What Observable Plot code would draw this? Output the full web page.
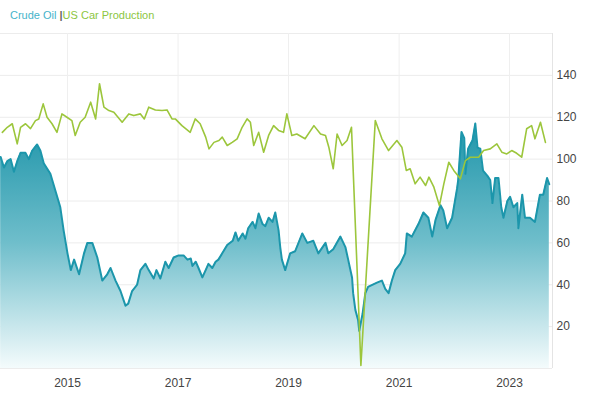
<!DOCTYPE html>
<html>
<head>
<meta charset="utf-8">
<script src="https://cdn.jsdelivr.net/npm/d3@7"></script>
<script src="https://cdn.jsdelivr.net/npm/@observablehq/plot@0.6"></script>
<style>
  html, body { margin: 0; padding: 0; background: #fff; }
  #header { height: 26px; box-sizing: border-box; padding: 9px 0 0 10px; line-height: 12px;
            font: 11px "Liberation Sans", Arial, sans-serif; white-space: nowrap; }
  #header .oil { color: #45b3ca; }
  #header .sep { color: #666; font-weight: bold; }
  #header .car { color: #8cc63f; }
</style>
</head>
<body>
<div id="header"><span class="oil">Crude Oil</span> <span class="sep">|</span><span class="car">US Car Production</span></div>
<div id="chart"></div>
<script>
// ---- data (time as decimal year) ----
const oilT = [2013.79,2013.85,2013.91,2013.97,2014.03,2014.09,2014.15,2014.24,2014.30,2014.36,
  2014.45,2014.51,2014.57,2014.69,2014.78,2014.87,2014.93,2015.00,2015.06,2015.12,
  2015.21,2015.30,2015.36,2015.45,2015.54,2015.63,2015.72,2015.78,2015.87,2015.96,
  2016.05,2016.10,2016.17,2016.26,2016.32,2016.41,2016.47,2016.56,2016.61,2016.68,
  2016.77,2016.83,2016.92,2017.01,2017.10,2017.17,2017.23,2017.26,2017.32,2017.37,
  2017.44,2017.50,2017.55,2017.62,2017.68,2017.73,2017.80,2017.89,2017.99,2018.04,
  2018.09,2018.17,2018.22,2018.27,2018.35,2018.40,2018.46,2018.53,2018.58,2018.64,
  2018.71,2018.76,2018.82,2018.85,2018.88,2018.94,2019.03,2019.12,2019.25,2019.34,
  2019.45,2019.54,2019.67,2019.72,2019.81,2019.94,2020.03,2020.08,2020.15,2020.17,
  2020.21,2020.26,2020.28,2020.34,2020.39,2020.44,2020.60,2020.69,2020.75,2020.81,
  2020.87,2020.93,2021.02,2021.11,2021.14,2021.23,2021.35,2021.44,2021.53,2021.60,
  2021.66,2021.75,2021.80,2021.87,2021.96,2022.05,2022.07,2022.13,2022.18,2022.20,
  2022.25,2022.33,2022.38,2022.42,2022.47,2022.52,2022.60,2022.65,2022.69,2022.74,
  2022.80,2022.85,2022.89,2022.96,2023.01,2023.07,2023.14,2023.16,2023.23,2023.28,
  2023.37,2023.46,2023.55,2023.61,2023.68,2023.72];
const oilV = [101,96,99,100,94,99,103,103,100,104,
  107,104,98,93,85,77,66,55,47,52,
  45,55,60,60,53,42,45,48,42,37,
  30,31,37,40,47,50,47,43,47,43,
  51,48,53,54,54,52,52.5,49,51,48,
  43.5,47,50,48,51,52,55,59,61,65,
  61,64.5,62,67,70,67,74,69,68,72,
  70,74.5,66,58,52,47,55,56,64.5,60,
  61,55,60,55,57,63,58,52,43.5,36,
  28,23,18,26,36,39,41,42,38,36,
  42,47,50,55,64.5,63,69,74.5,72,63,
  71,78,75.5,67,72,86,90,113,110,93,
  105,109,117,105.5,105,94.5,92,90,79,91,
  91,77,72,80,82,77,79,67,83,72,
  72,70,83,83,91,88];

const carT = [2013.82,2013.91,2014.00,2014.09,2014.15,2014.24,2014.33,2014.42,2014.48,2014.56,
  2014.63,2014.72,2014.81,2014.90,2014.99,2015.08,2015.14,2015.23,2015.32,2015.42,
  2015.51,2015.58,2015.66,2015.75,2015.84,2015.99,2016.11,2016.20,2016.32,2016.39,
  2016.47,2016.59,2016.71,2016.80,2016.89,2016.95,2017.07,2017.22,2017.31,2017.40,
  2017.50,2017.56,2017.65,2017.74,2017.80,2017.89,2017.98,2018.07,2018.16,2018.25,
  2018.31,2018.37,2018.46,2018.55,2018.64,2018.73,2018.82,2018.91,2018.97,2019.06,
  2019.15,2019.30,2019.46,2019.58,2019.67,2019.73,2019.81,2019.88,2019.97,2020.06,
  2020.14,2020.31,2020.57,2020.69,2020.81,2020.96,2021.05,2021.13,2021.20,2021.29,
  2021.38,2021.48,2021.54,2021.63,2021.73,2021.81,2021.90,2021.99,2022.11,2022.20,
  2022.29,2022.44,2022.53,2022.65,2022.77,2022.86,2022.95,2023.04,2023.13,2023.22,
  2023.31,2023.40,2023.46,2023.56,2023.65];
const carV = [112.8,115.2,116.9,107.3,115.2,116.9,114.6,118.4,119.2,126.4,
  120,116.9,112.8,121.6,120,118.4,111.3,117.6,120,127.2,
  119.2,136,124.8,123.2,122.4,117.6,121.6,120.8,121.6,119.2,
  124.8,123.5,123.2,123.5,119.2,119.2,116,112.8,119.2,116.9,
  110.5,104.9,108,108.9,110.5,106.5,108,109.7,115.2,119.2,
  117.6,106.5,112.8,103.3,111.3,116,113.7,112.8,121.6,111.3,
  112,109.7,116,112,111.3,105.7,95.4,112,106.5,108.9,
  115.2,1.4,118.4,109.7,104.1,108.9,105.7,94.6,95.4,88.2,
  91.4,87.4,91.4,86.6,77.8,88.2,98.5,94.6,90.6,99.3,
  100.9,100.9,104.1,104.9,107.3,103.3,102.5,104.1,102.8,100.9,
  114.5,116,109.7,117.6,108];

const xTickYears = [2015, 2017, 2019, 2021, 2023];
const yTickValues = [20, 40, 60, 80, 100, 120, 140];
const yGridValues = [0, 20, 40, 60, 80, 100, 120, 140, 160];
const xDomainYears = [2013.787, 2023.778];

// ---- build ----
const toDate = t => {
  const y = Math.floor(t);
  const a = Date.UTC(y, 0, 1), b = Date.UTC(y + 1, 0, 1);
  return new Date(a + (t - y) * (b - a));
};
const oil = oilT.map((t, i) => ({date: toDate(t), value: oilV[i]}));
const car = carT.map((t, i) => ({date: toDate(t), value: carV[i]}));
const xTicks = xTickYears.map(y => new Date(Date.UTC(y, 0, 1)));
const xDomain = xDomainYears.map(toDate);

const chart = Plot.plot({
  width: 600,
  height: 376,
  marginLeft: 0,
  marginRight: 48,
  marginTop: 7,
  marginBottom: 34,
  style: {fontFamily: "'Liberation Sans', Arial, sans-serif", fontSize: "12px", color: "#444", background: "#fff"},
  x: {type: "utc", domain: xDomain},
  y: {domain: [0, 160]},
  marks: [
    Plot.ruleY(yGridValues, {stroke: "#ececec", strokeWidth: 1}),
    Plot.ruleX(xTicks, {stroke: "#efefef", strokeWidth: 1}),
    Plot.ruleX([xDomain[1]], {stroke: "#e4e4e4", strokeWidth: 1}),
    Plot.areaY(oil, {x: "date", y: "value", fill: "url(#oilGrad)"}),
    Plot.lineY(oil, {x: "date", y: "value", stroke: "#1c96ab", strokeWidth: 2}),
    Plot.lineY(car, {x: "date", y: "value", stroke: "#9cc63c", strokeWidth: 1.6}),
    Plot.axisY(yTickValues, {anchor: "right", tickSize: 0, tickPadding: 4, label: null}),
    Plot.axisX(xTicks, {anchor: "bottom", tickSize: 0, tickPadding: 10, label: null, tickFormat: d3.utcFormat("%Y")})
  ]
});

// gradient for the oil area
const ys = chart.scale("y");
const ns = "http://www.w3.org/2000/svg";
const defs = document.createElementNS(ns, "defs");
const grad = document.createElementNS(ns, "linearGradient");
grad.setAttribute("id", "oilGrad");
grad.setAttribute("gradientUnits", "userSpaceOnUse");
grad.setAttribute("x1", 0); grad.setAttribute("x2", 0);
grad.setAttribute("y1", ys.apply(120)); grad.setAttribute("y2", ys.apply(0));
[["0", "#1b93a8"], ["0.5", "#6fbecb"], ["1", "#f4fbfc"]].forEach(([o, c]) => {
  const s = document.createElementNS(ns, "stop");
  s.setAttribute("offset", o); s.setAttribute("stop-color", c);
  grad.appendChild(s);
});
defs.appendChild(grad);
chart.insertBefore(defs, chart.firstChild);

document.getElementById("chart").appendChild(chart);
</script>
</body>
</html>
